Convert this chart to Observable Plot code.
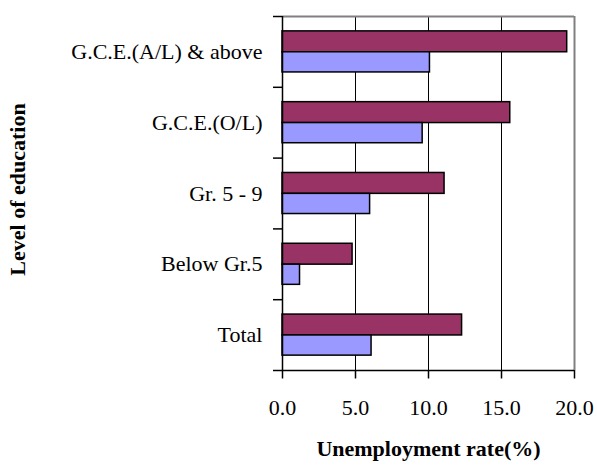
<!DOCTYPE html>
<html>
<head>
<meta charset="utf-8">
<script src="https://cdn.jsdelivr.net/npm/d3@7"></script>
<script src="https://cdn.jsdelivr.net/npm/@observablehq/plot@0.6"></script>
<style>
  html, body { margin: 0; padding: 0; background: #fff; }
  svg text { font-family: "Liberation Serif", serif !important; }
</style>
</head>
<body>
<div id="chart"></div>
<script>
// Categories, top to bottom
const categories = ["G.C.E.(A/L) & above", "G.C.E.(O/L)", "Gr. 5 - 9", "Below Gr.5", "Total"];
// Series values (unemployment rate, %)
const seriesMaroon = [19.5, 15.6, 11.1, 4.8, 12.3];
const seriesBlue = [10.1, 9.6, 6.0, 1.2, 6.1];
// Tick values for x axis
const xTicks = [0, 5, 10, 15, 20];
const gridTicks = [5, 10, 15];
const yBoundaries = [0, 1, 2, 3, 4, 5];

const maroonRows = categories.map((c, i) => ({cat: c, i, value: seriesMaroon[i]}));
const blueRows = categories.map((c, i) => ({cat: c, i, value: seriesBlue[i]}));

const font = "Liberation Serif";

const chart = Plot.plot({
  width: 597,
  height: 469,
  marginLeft: 282,
  marginRight: 23,
  marginTop: 16,
  marginBottom: 99,
  style: {fontFamily: font, fontSize: "22px", background: "#fff", color: "#000"},
  x: {domain: [0, 20]},
  y: {domain: [5, 0]},
  marks: [
    Plot.ruleX(gridTicks, {stroke: "#000", strokeWidth: 1}),
    Plot.rect(maroonRows, {x1: 0, x2: "value", y1: d => d.i + 0.21, y2: d => d.i + 0.505, fill: "#993366", stroke: "#000", strokeWidth: 1.5}),
    Plot.rect(blueRows, {x1: 0, x2: "value", y1: d => d.i + 0.505, y2: d => d.i + 0.79, fill: "#9999FF", stroke: "#000", strokeWidth: 1.5}),
    Plot.ruleX([20], {stroke: "#808080", strokeWidth: 2}),
    Plot.ruleY([0], {stroke: "#808080", strokeWidth: 2}),
    Plot.ruleX([0], {stroke: "#000", strokeWidth: 1.5}),
    Plot.ruleY([5], {stroke: "#000", strokeWidth: 1.5}),
    Plot.axisY({ticks: yBoundaries, tickFormat: () => "", tickSize: 9, label: null, stroke: "#000", strokeWidth: 1.5}),
    Plot.axisX({ticks: xTicks, tickFormat: d3.format(".1f"), tickSize: 8.5, tickPadding: 20.5, label: null, fontSize: 22, fontFamily: font, stroke: "#000", strokeWidth: 1.5}),
    Plot.text(categories, {y: (d, i) => i + 0.5, frameAnchor: "left", textAnchor: "end", dx: -20, fontSize: 22, fontFamily: font, fill: "#000"}),
    Plot.text(["Unemployment rate(%)"], {frameAnchor: "bottom", dy: 85, fontSize: 22, fontWeight: "bold", fontFamily: font, fill: "#000"}),
    Plot.text(["Level of education"], {frameAnchor: "left", textAnchor: "middle", rotate: -90, dx: -265, dy: -4, fontSize: 22, fontWeight: "bold", fontFamily: font, fill: "#000"})
  ]
});
document.getElementById("chart").appendChild(chart);
</script>
</body>
</html>
